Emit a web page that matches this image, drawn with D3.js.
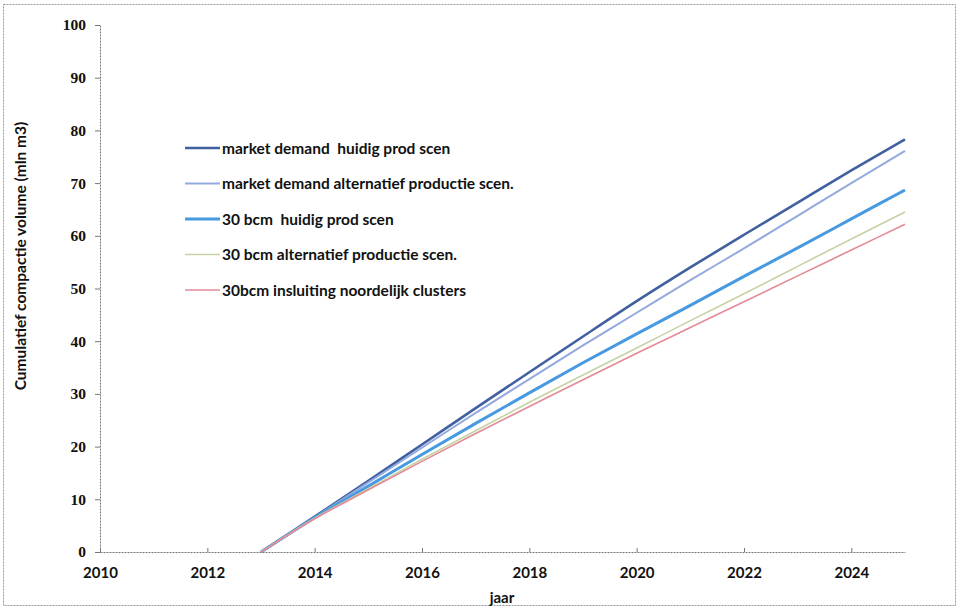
<!DOCTYPE html>
<html><head><meta charset="utf-8">
<script src="https://cdn.jsdelivr.net/npm/d3@7"></script>
<style>
body{margin:0;background:#fff;}
text{font-family:Lato,"Open Sans",sans-serif;font-weight:bold;fill:#111;}
</style></head>
<body><svg id="c" width="959" height="610"></svg>
<script>
const years = [2013,2014,2015,2016,2017,2018,2019,2020,2021,2022,2023,2024,2025];
const seriesNames = ["market demand  huidig prod scen","market demand alternatief productie scen.","30 bcm  huidig prod scen","30 bcm alternatief productie scen.","30bcm insluiting noordelijk clusters"];
const s1 = [0,6.7,13.5,20.4,27.3,34.1,40.9,47.6,54.0,60.2,66.3,72.4,78.3];
const s2 = [0,6.6,13.2,19.8,26.4,32.8,39.2,45.4,51.6,57.6,63.8,70.0,76.1];
const s3 = [0,6.5,12.5,18.5,24.4,30.2,35.9,41.4,46.8,52.3,57.7,63.2,68.7];
const s4 = [0,6.4,12.0,17.6,23.0,28.4,33.6,38.7,43.9,49.0,54.2,59.4,64.5];
const s5 = [0,6.3,11.8,17.2,22.5,27.6,32.7,37.7,42.6,47.5,52.4,57.3,62.2];
const xTicks = [2010,2012,2014,2016,2018,2020,2022,2024];
const yTicks = [0,10,20,30,40,50,60,70,80,90,100];
const allSeries = [s1,s2,s3,s4,s5];
const colors = ["#41609f","#94a9dd","#4799e0","#c5d3a3","#e48a97"];
const widths = [2.6,2,3,1.6,1.6];

const svg = d3.select("#c");
svg.append("rect").attr("x",3.5).attr("y",4.5).attr("width",952).attr("height",601)
  .attr("fill","none").attr("stroke","#9a9a9a").attr("stroke-dasharray","2,1");

const x = d3.scaleLinear().domain([2010,2025]).range([100,905]);
const y = d3.scaleLinear().domain([0,100]).range([552,25]);

const gy = svg.append("g").attr("transform","translate(100,0)")
  .call(d3.axisLeft(y).tickValues(yTicks).tickSize(5).tickPadding(9).tickSizeOuter(0));
gy.select(".domain").attr("stroke","#777").attr("stroke-dasharray","2,1");
gy.selectAll(".tick line").attr("stroke","#777");
gy.selectAll("text").style("font-family","'Liberation Serif','DejaVu Serif',serif").style("font-size","15.5px");

const gx = svg.append("g").attr("transform","translate(0,552)")
  .call(d3.axisBottom(x).tickValues(xTicks).tickFormat(d3.format("d")).tickSize(-4).tickPadding(15).tickSizeOuter(0));
gx.select(".domain").attr("stroke","#777").attr("stroke-dasharray","2,1");
gx.selectAll(".tick line").attr("stroke","#777");
gx.selectAll("text").style("font-size","15px");

const line = d3.line().curve(d3.curveMonotoneX).x((d,i)=>x(years[i])).y(d=>y(d));
allSeries.forEach((s,k)=>{
  svg.append("path").datum(s).attr("d",line).attr("fill","none")
    .attr("stroke",colors[k]).attr("stroke-width",widths[k]);
});

seriesNames.forEach((n,k)=>{
  const yy = 148 + k*35.5;
  svg.append("line").attr("x1",185).attr("x2",220).attr("y1",yy).attr("y2",yy)
    .attr("stroke",colors[k]).attr("stroke-width",widths[k]);
  svg.append("text").attr("x",222).attr("y",yy+5.5).style("font-size","15.5px")
    .style("white-space","pre").text(n);
});

svg.append("text").attr("transform","translate(26,256) rotate(-90)").attr("text-anchor","middle")
  .style("font-size","15.5px").text("Cumulatief compactie volume (mln m3)");
svg.append("text").attr("x",502).attr("y",603).attr("text-anchor","middle")
  .style("font-size","15px").text("jaar");
</script></body></html>
